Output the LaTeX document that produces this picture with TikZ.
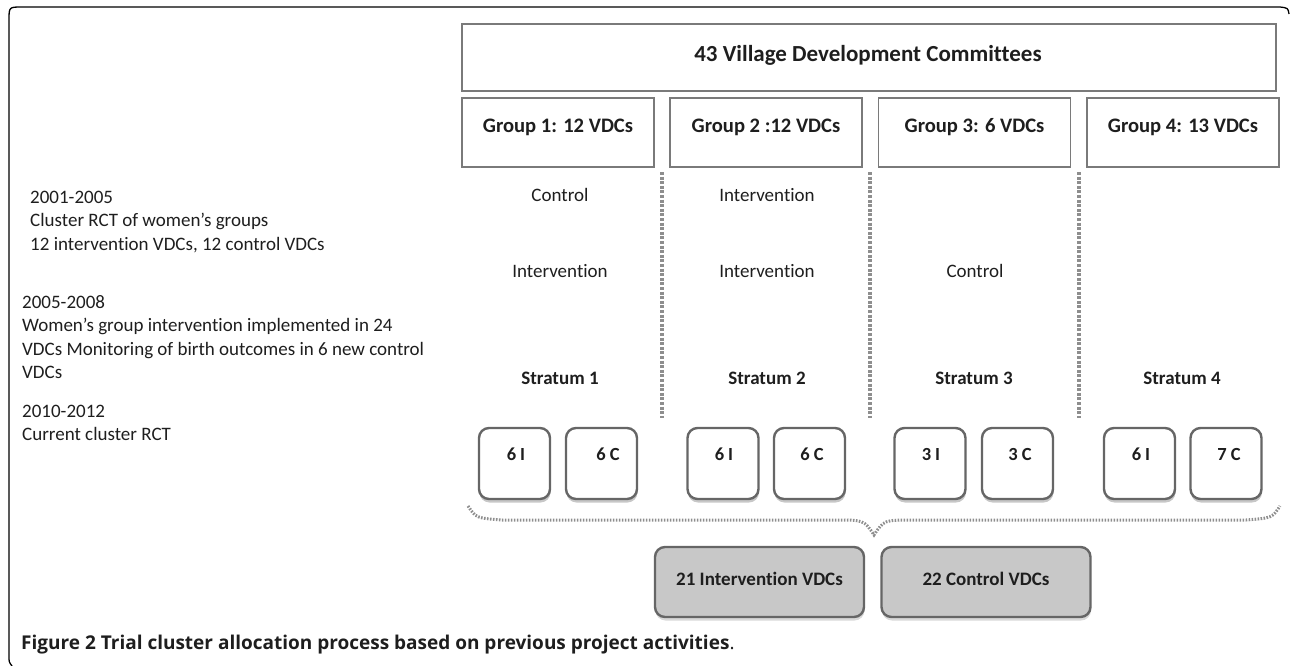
\documentclass[tikz,border=0pt]{standalone}
\usepackage{fontspec}
\setmainfont[Ligatures=NoCommon]{Carlito}
\newfontfamily\capfont{Open Sans}
\usetikzlibrary{shadows}
\definecolor{ink}{HTML}{1E1E1E}
\definecolor{boxline}{HTML}{7A7A7A}
\definecolor{rndline}{HTML}{666666}
\definecolor{dotgray}{HTML}{8E8E8E}
\definecolor{sumfill}{HTML}{C8C8C8}
\begin{document}
\begin{tikzpicture}[x=1pt,y=-1pt,
  txt/.style={inner sep=0pt, text=ink, font=\fontsize{19}{23.5}\selectfont},
  btxt/.style={txt, font=\fontsize{19}{23.5}\selectfont\bfseries},
  gtxt/.style={txt, font=\fontsize{20.6}{24}\selectfont\bfseries},
  ttxt/.style={txt, font=\fontsize{23}{26}\selectfont\bfseries},
  stxt/.style={inner sep=0pt, text=ink, font=\fontsize{18.5}{20}\selectfont\bfseries},
  sqbox/.style={draw=boxline, line width=1.6pt, inner sep=0pt},
  grpbox/.style={sqbox, minimum width=192pt, minimum height=69pt},
  cellbox/.style={draw=rndline, fill=white, line width=2.4pt, rounded corners=10pt,
    minimum width=71pt, minimum height=71pt, inner sep=0pt,
    drop shadow={shadow xshift=0.5pt, shadow yshift=-3.5pt, fill=black!22, opacity=1}},
  sumbox/.style={draw=rndline, fill=sumfill, line width=2.4pt, rounded corners=10pt,
    minimum width=209pt, minimum height=70pt, inner sep=0pt,
    drop shadow={shadow xshift=0.5pt, shadow yshift=-3.5pt, fill=black!15, opacity=1}},
  divider/.style={draw=dotgray, line width=3.5pt, dash pattern=on 3pt off 1.6pt},
  bracestyle/.style={draw=dotgray, line width=3pt, dash pattern=on 1.6pt off 1.4pt}
]
\useasboundingbox (0,0) rectangle (1290,666);

% outer frame, open at the bottom and right
\draw[black, line width=1.3pt] (1289,14) .. controls (1288,8) .. (1280,7) -- (22,7)
  .. controls (9,7) .. (9,20) -- (9,656) .. controls (9,662) .. (12,666);

% top box and the four groups
\node[sqbox, minimum width=814pt, minimum height=67pt] (top) at (869,57.5) {};
\node[ttxt] (topt) at (868,55) {43 Village Development Committees};

\node[grpbox] (g1) at (558,132.5) {};
\node[grpbox] (g2) at (766,132.5) {};
\node[grpbox] (g3) at (974.5,132.5) {};
\node[grpbox] (g4) at (1183,132.5) {};
\node[gtxt] (g1t) at (558,127) {Group 1: 12 VDCs};
\node[gtxt] (g2t) at (766,127) {Group 2 :12 VDCs};
\node[gtxt] (g3t) at (974.5,127) {Group 3: 6 VDCs};
\node[gtxt] (g4t) at (1183,127) {Group 4: 13 VDCs};

% dotted column dividers
\coordinate (d1a) at (662,172); \coordinate (d1b) at (662,418);
\coordinate (d2a) at (870,172); \coordinate (d2b) at (870,418);
\coordinate (d3a) at (1079,172); \coordinate (d3b) at (1079,418);
\draw[divider] (d1a) -- (d1b);
\draw[divider] (d2a) -- (d2b);
\draw[divider] (d3a) -- (d3b);

% timeline on the left
\node[txt, anchor=west, align=left] (p1) at (30,222)
  {2001-2005\\Cluster RCT of women’s groups\\12 intervention VDCs, 12 control VDCs};
\node[txt, anchor=west, align=left] (p2) at (22,337)
  {2005-2008\\Women’s group intervention implemented in 24\\VDCs Monitoring of birth outcomes in 6 new control\\VDCs};
\node[txt, anchor=west, align=left] (p3) at (22,423)
  {2010-2012\\Current cluster RCT};

% allocations per period
\node[txt] (a11) at (560,195) {Control};
\node[txt] (a12) at (767,195) {Intervention};
\node[txt] (a21) at (560,271) {Intervention};
\node[txt] (a22) at (767,271) {Intervention};
\node[txt] (a23) at (975,271) {Control};

% strata
\node[btxt] (s1) at (560,378) {Stratum 1};
\node[btxt] (s2) at (767,378) {Stratum 2};
\node[btxt] (s3) at (974,378) {Stratum 3};
\node[btxt] (s4) at (1182,378) {Stratum 4};

\node[cellbox] (c1i) at (514.5,463.5) {};
\node[cellbox] (c1c) at (601.5,463.5) {};
\node[cellbox] (c2i) at (723,463.5) {};
\node[cellbox] (c2c) at (809.5,463.5) {};
\node[cellbox] (c3i) at (930,463.5) {};
\node[cellbox] (c3c) at (1017.5,463.5) {};
\node[cellbox] (c4i) at (1139.5,463.5) {};
\node[cellbox] (c4c) at (1226,463.5) {};
\node[stxt] (c1it) at (516,454) {6\hspace{4pt}I};
\node[stxt] (c1ct) at (608,454) {6\hspace{4pt}C};
\node[stxt] (c2it) at (724,454) {6\hspace{4pt}I};
\node[stxt] (c2ct) at (812,454) {6\hspace{4pt}C};
\node[stxt] (c3it) at (931,454) {3\hspace{4pt}I};
\node[stxt] (c3ct) at (1020,454) {3\hspace{4pt}C};
\node[stxt] (c4it) at (1141,454) {6\hspace{4pt}I};
\node[stxt] (c4ct) at (1229,454) {7\hspace{4pt}C};

% brace gathering the strata
\coordinate (bl) at (468,506);
\coordinate (bm) at (874,535);
\coordinate (br) at (1280,506);
\draw[bracestyle] (bl) .. controls (476,518) .. (502,520) -- (835,520)
  .. controls (864,520) .. (bm) .. controls (884,520) .. (913,520) -- (1246,520)
  .. controls (1272,518) .. (br);

% totals
\node[sumbox] (ti) at (759.5,582) {};
\node[sumbox] (tc) at (986,582) {};
\node[btxt] (tit) at (759.5,579) {21 Intervention VDCs};
\node[btxt] (tct) at (986,579) {22 Control VDCs};

% caption
\node[inner sep=0pt, anchor=west, text=ink, font=\capfont\fontsize{19}{22}\selectfont] (cap) at (21,645)
  {\textbf{Figure 2 Trial cluster allocation process based on previous project activities}.};
\end{tikzpicture}
\end{document}
